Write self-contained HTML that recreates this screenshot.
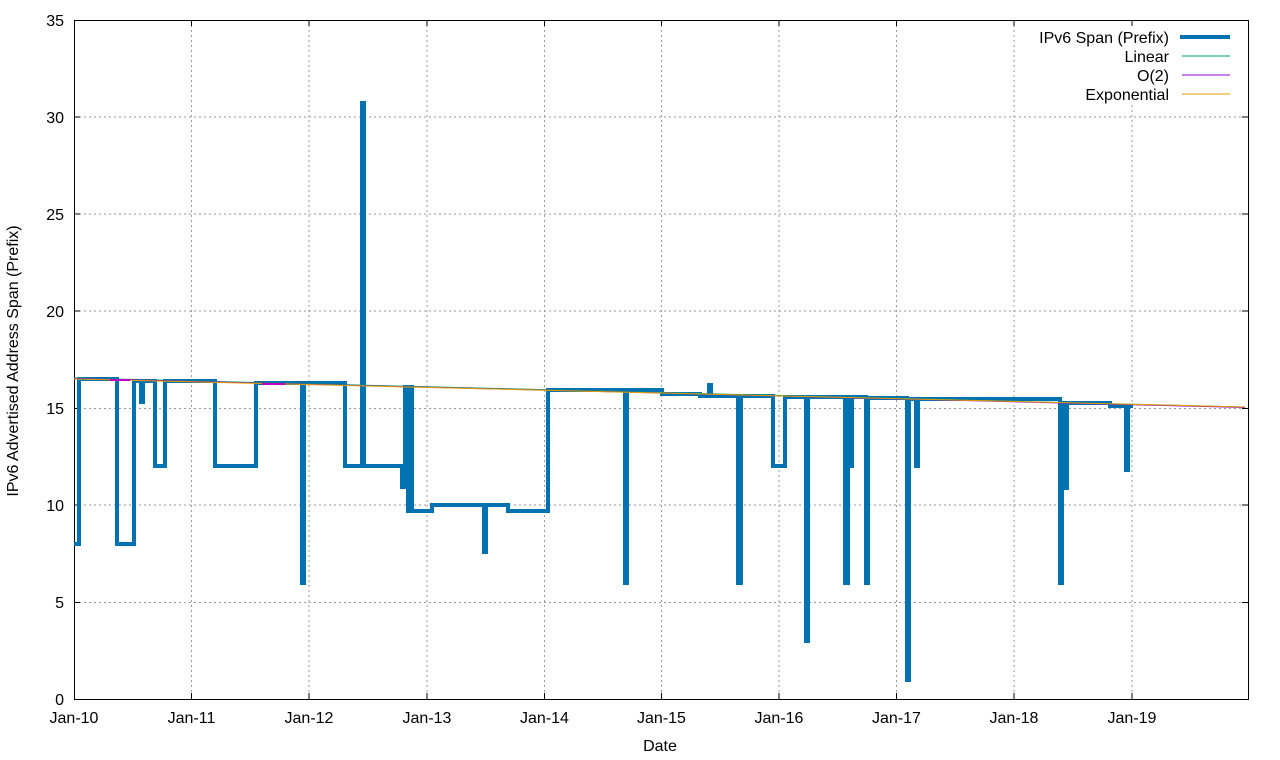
<!DOCTYPE html>
<html><head><meta charset="utf-8"><style>
html,body{margin:0;padding:0;background:#fff;}
svg{display:block;font-family:"Liberation Sans",Arial,sans-serif;}
</style></head><body>
<svg width="1280" height="760" viewBox="0 0 1280 760">
<rect width="1280" height="760" fill="#fff"/>
<g stroke="#999" stroke-width="1" stroke-dasharray="2,3" fill="none">
<path d="M74 602.5H1248M74 505H1248M74 408.5H1248M74 311H1248M74 214H1248M74 117H1248"/>
<path d="M191.5 20V699M309 20V699M427 20V699M544.5 20V699M661.5 20V699M779 20V699M896.5 20V699M1014 20V699M1132 20V699"/>
</g>
<rect x="1032" y="24" width="210" height="81" fill="#fff"/>
<rect x="74.5" y="20.5" width="1174" height="679" fill="none" stroke="#000" stroke-width="1"/>
<g stroke="#000" stroke-width="1">
<path d="M74 602.5h6M74 505h6M74 408.5h6M74 311h6M74 214h6M74 117h6M74 20.5h6M1248 602.5h-6M1248 505h-6M1248 408.5h-6M1248 311h-6M1248 214h-6M1248 117h-6"/>
<path d="M191.5 699v-6M309 699v-6M427 699v-6M544.5 699v-6M661.5 699v-6M779 699v-6M896.5 699v-6M1014 699v-6M1132 699v-6M191.5 20v6M309 20v6M427 20v6M544.5 20v6M661.5 20v6M779 20v6M896.5 20v6M1014 20v6M1132 20v6"/>
</g>
<g font-size="16" fill="#000" text-anchor="end">
<text x="64" y="705">0</text><text x="64" y="608">5</text><text x="64" y="511">10</text><text x="64" y="414">15</text><text x="64" y="317">20</text><text x="64" y="220">25</text><text x="64" y="123">30</text><text x="64" y="26">35</text>
</g>
<g font-size="16" fill="#000" text-anchor="middle">
<text x="74" y="723">Jan-10</text><text x="191.5" y="723">Jan-11</text><text x="309" y="723">Jan-12</text><text x="427" y="723">Jan-13</text><text x="544.5" y="723">Jan-14</text><text x="661.5" y="723">Jan-15</text><text x="779" y="723">Jan-16</text><text x="896.5" y="723">Jan-17</text><text x="1014" y="723">Jan-18</text><text x="1132" y="723">Jan-19</text>
<text x="660" y="751">Date</text>
<text transform="translate(18 361) rotate(-90)">IPv6 Advertised Address Span (Prefix)</text>
</g>
<path d="M74 544H79V379H117V544H134V381H141V402H143V381H155V466H165V381H215V466H256V383H302V583H304V383H345V466H362V103H364V466H402V487H405V387H408V511H410V387H412V511H432V505H484V552H486V505H508V511H548V390H625V583H627V390H662V394H700V396H709V385H711V396H738V583H741V396H773V466H785V397H806V641H808V397H845V583H848V397H850V466H852V397H866V583H868V398H907V680H909V399H916V466H918V399H1060V583H1062V403H1065V488H1067V403H1110V406H1126V470H1128V406H1133" fill="none" stroke="#0072b2" stroke-width="4" stroke-linejoin="miter"/>
<line x1="74" y1="378" x2="1245" y2="407" stroke="#009e73" stroke-width="1"/>
<line x1="74" y1="378.5" x2="1245" y2="407.5" stroke="#9400d3" stroke-width="1"/>
<line x1="74" y1="379" x2="1245" y2="407" stroke="#e69f00" stroke-width="1"/>
<path d="M110 380H130M262 384H285" stroke="#c000c0" stroke-width="2"/>
<g font-size="16" fill="#000" text-anchor="end">
<text x="1169" y="43">IPv6 Span (Prefix)</text>
<text x="1169" y="62">Linear</text>
<text x="1169" y="81">O(2)</text>
<text x="1169" y="100">Exponential</text>
</g>
<line x1="1180" y1="37" x2="1230" y2="37" stroke="#0072b2" stroke-width="4"/>
<line x1="1182" y1="56" x2="1230" y2="56" stroke="#009e73" stroke-width="1"/>
<line x1="1182" y1="75" x2="1230" y2="75" stroke="#9400d3" stroke-width="1"/>
<line x1="1182" y1="94" x2="1230" y2="94" stroke="#e69f00" stroke-width="1"/>
</svg>
</body></html>
